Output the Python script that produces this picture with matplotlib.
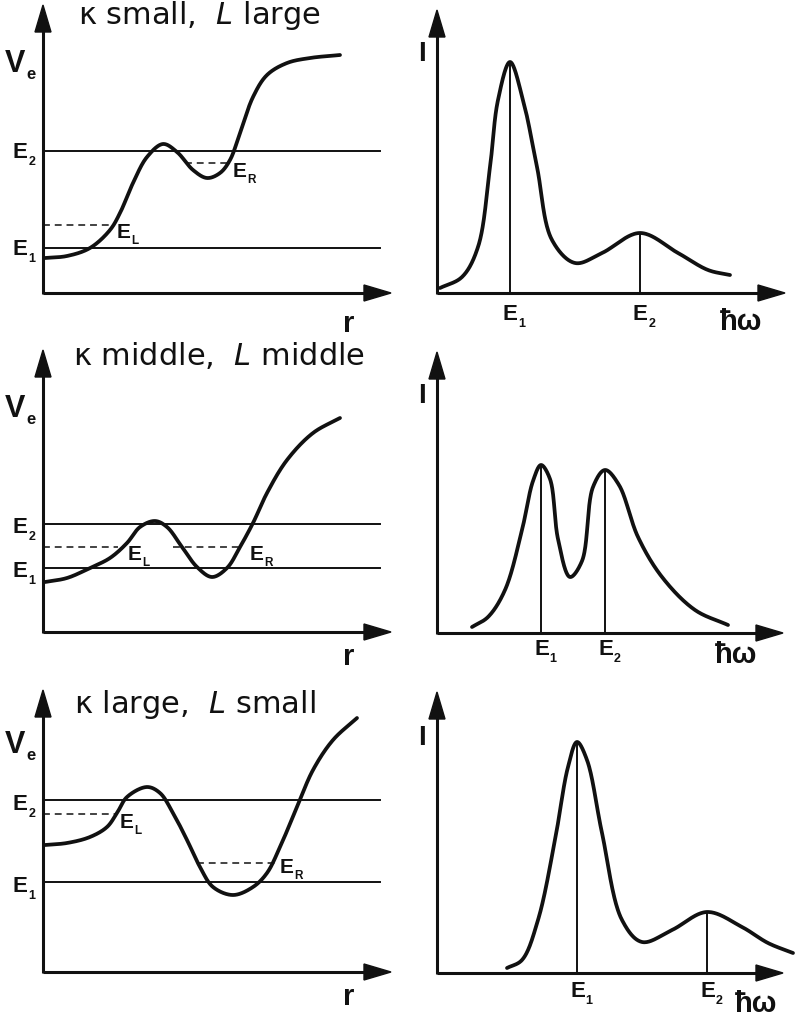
import numpy as np
import matplotlib
matplotlib.use("Agg")
import matplotlib.pyplot as plt
from matplotlib.patches import Polygon

plt.rcParams['font.family'] = ['Liberation Sans', 'DejaVu Sans']
plt.rcParams['mathtext.fontset'] = 'dejavusans'

# ---------------- effective potential V_e(r): knots of each curve ----------------
pot1_r = [0.2, 2.4, 4.7, 6.7, 7.7, 9.0, 10.4, 12.0, 13.4, 15.0, 16.4, 17.7, 18.7, 19.7, 21.0, 22.4, 24.4, 26.7, 29.7]
pot1_v = [3.5, 3.7, 4.5, 6.3, 8.0, 11.0, 13.6, 14.9, 14.1, 12.3, 11.5, 12.0, 13.3, 16.0, 19.6, 21.8, 23.0, 23.5, 23.8]

pot2_r = [0.2, 2.4, 4.7, 6.7, 8.4, 9.7, 11.2, 12.4, 13.9, 15.4, 16.9, 18.4, 19.7, 21.0, 22.4, 24.4, 27.0, 29.7]
pot2_v = [5.0, 5.4, 6.4, 7.4, 8.9, 10.5, 11.1, 10.5, 8.5, 6.5, 5.5, 6.4, 8.5, 10.9, 13.9, 17.2, 19.9, 21.4]

pot3_r = [0.2, 2.4, 4.7, 6.4, 7.4, 8.4, 10.4, 11.7, 13.0, 14.4, 15.7, 17.0, 19.0, 21.0, 22.4, 23.7, 25.4, 27.0, 29.0, 31.4]
pot3_v = [12.7, 12.9, 13.5, 14.5, 15.9, 17.5, 18.5, 17.9, 15.9, 13.2, 10.5, 8.5, 7.7, 8.5, 9.9, 12.5, 16.5, 20.2, 23.2, 25.4]

# level energies (E1, E2) and the dashed levels E_L, E_R
levels_E1 = [4.5, 6.4, 9.0]
levels_E2 = [14.2, 10.8, 17.2]
levels_EL = [6.8, 8.5, 15.8]
levels_ER = [13.0, 8.5, 10.9]
# r-ranges of the dashed E_L and E_R segments
EL_span = [(0.0, 6.9), (0.0, 7.5), (0.0, 7.2)]
ER_span = [(14.2, 18.5), (13.0, 19.9), (15.4, 23.4)]

# ---------------- spectra I(hbar omega) ----------------
spec1_w = [0.3, 2.5, 4.1, 5.3, 6.1, 7.3, 8.6, 10.0, 11.5, 13.8, 16.5, 20.3, 24.1, 27.1, 29.3]
spec1_i = [0.5, 1.6, 4.6, 12.6, 19.3, 23.1, 19.3, 12.6, 5.3, 3.0, 4.0, 6.0, 4.0, 2.3, 1.8]

spec2_w = [3.5, 5.1, 6.8, 8.5, 9.6, 10.4, 11.3, 12.1, 13.3, 14.5, 15.6, 16.8, 18.2, 20.1, 22.5, 25.8, 29.1]
spec2_i = [0.6, 1.6, 4.3, 10.3, 15.2, 16.8, 15.4, 9.4, 5.6, 7.2, 14.6, 16.3, 14.8, 9.6, 5.6, 2.3, 0.8]

spec3_w = [7.0, 8.5, 10.1, 11.8, 13.1, 14.0, 15.0, 16.5, 18.5, 20.5, 23.5, 27.0, 30.5, 33.1, 35.6]
spec3_i = [0.5, 1.3, 5.3, 13.3, 20.6, 23.1, 21.3, 14.0, 5.3, 3.1, 4.3, 6.1, 4.6, 3.0, 2.0]

# peak positions (E1, E2) and heights of the spectral lines
peak_E1 = [7.3, 10.4, 14.0]
peak_E2 = [20.3, 16.8, 27.0]
peak_h1 = [23.1, 16.8, 23.1]
peak_h2 = [6.0, 16.3, 6.1]

kappa_words = ["small", "middle", "large"]
L_words = ["large", "middle", "small"]

# ---------------- layout (pixels) ----------------
W, H = 795, 1016
left_origins = [(43, 293), (43, 632), (43, 972)]
right_origins = [(437, 293), (437, 633), (437, 973)]
left_tips = [(34.8, 28.8), (34.8, 28.2), (34.8, 28.2)]
right_tips = [(34.8, 28.3), (34.6, 28.1), (34.6, 28.1)]
title_xy = [(3.5, 26.9), (3.0, 26.7), (3.1, 25.9)]
V_base = [22.1, 21.5, 21.9]
EL_lab = [(7.4, 5.5), (8.5, 7.2), (7.7, 14.4)]
ER_lab = [(19.0, 11.6), (20.7, 7.2), (23.7, 9.9)]
E_lab_drop = [0.7, 0.9, 1.0]
r_base = [-3.9, -3.3, -3.3]
spec_lab_base = [-2.7, -2.2, -2.4]
hw_xy = [(30.4, -3.7), (29.9, -3.0), (31.9, -3.9)]
I_center = [23.9, 23.7, 23.5]

LW_CURVE = 2.7
LW_AXIS = 2.2
LW_THIN = 1.4
INK = "#111111"


def smooth(xs, ys, n=40):
    """Centripetal Catmull-Rom spline through the knots."""
    P = np.column_stack([xs, ys]).astype(float)
    P = np.vstack([2 * P[0] - P[1], P, 2 * P[-1] - P[-2]])
    out = []
    for i in range(1, len(P) - 2):
        p0, p1, p2, p3 = P[i - 1], P[i], P[i + 1], P[i + 2]
        t0 = 0.0
        t1 = t0 + np.linalg.norm(p1 - p0) ** 0.5
        t2 = t1 + np.linalg.norm(p2 - p1) ** 0.5
        t3 = t2 + np.linalg.norm(p3 - p2) ** 0.5
        t = np.linspace(t1, t2, n)[:, None]
        A1 = (t1 - t) / (t1 - t0) * p0 + (t - t0) / (t1 - t0) * p1
        A2 = (t2 - t) / (t2 - t1) * p1 + (t - t1) / (t2 - t1) * p2
        A3 = (t3 - t) / (t3 - t2) * p2 + (t - t2) / (t3 - t2) * p3
        B1 = (t2 - t) / (t2 - t0) * A1 + (t - t0) / (t2 - t0) * A2
        B2 = (t3 - t) / (t3 - t1) * A2 + (t - t1) / (t3 - t1) * A3
        C = (t2 - t) / (t2 - t1) * B1 + (t - t1) / (t2 - t1) * B2
        out.append(C if i == len(P) - 3 else C[:-1])
    C = np.vstack(out)
    return C[:, 0], C[:, 1]


def make_axes(fig, origin):
    ox, oy = origin
    x0, x1 = ox - 43, ox + 358
    y0, y1 = oy - 300, oy + 45
    ax = fig.add_axes([x0 / W, 1 - y1 / H, (x1 - x0) / W, (y1 - y0) / H])
    ax.set_xlim(-4.3, 35.8)
    ax.set_ylim(-4.5, 30.0)
    ax.axis("off")
    return ax


def draw_frame(ax, tip):
    tx, ty = tip
    hl, hw = 2.7, 0.8
    ax.plot([0, tx - hl + 0.2], [0, 0], color=INK, lw=LW_AXIS, solid_capstyle="butt", clip_on=False)
    ax.plot([0, 0], [-0.1, ty - hl + 0.2], color=INK, lw=LW_AXIS, solid_capstyle="butt", clip_on=False)
    ax.add_patch(Polygon([[tx, 0], [tx - hl, hw], [tx - hl, -hw]], closed=True, color=INK, clip_on=False))
    ax.add_patch(Polygon([[0, ty], [-hw, ty - hl], [hw, ty - hl]], closed=True, color=INK, clip_on=False))


def sublabel(ax, x, y, main, sub, size=16, subsize=9, dy=-3.5):
    t = ax.text(x, y, main, fontsize=size, fontweight="bold", ha="left", va="baseline", color=INK)
    ax.annotate(sub, xy=(1, 0), xycoords=t, xytext=(0.5, dy), textcoords="offset points",
                fontsize=subsize, fontweight="bold", ha="left", va="bottom", color=INK)
    return t


fig = plt.figure(figsize=(W / 100, H / 100), dpi=100)
fig.patch.set_facecolor("white")

pots = [(pot1_r, pot1_v), (pot2_r, pot2_v), (pot3_r, pot3_v)]
specs = [(spec1_w, spec1_i), (spec2_w, spec2_i), (spec3_w, spec3_i)]

for k in range(3):
    # ---- left: potential ----
    ax = make_axes(fig, left_origins[k])
    draw_frame(ax, left_tips[k])
    xr, yr = smooth(*pots[k])
    ax.plot(xr, yr, color=INK, lw=LW_CURVE, solid_capstyle="round", clip_on=False)
    for E in (levels_E1[k], levels_E2[k]):
        ax.plot([0, 33.7], [E, E], color=INK, lw=LW_THIN, clip_on=False)
    ax.plot(EL_span[k], [levels_EL[k]] * 2, color=INK, lw=1.1, ls=(0, (4.5, 3.2)), clip_on=False)
    ax.plot(ER_span[k], [levels_ER[k]] * 2, color=INK, lw=1.1, ls=(0, (4.5, 3.2)), clip_on=False)

    sublabel(ax, -3.0, levels_E2[k] - E_lab_drop[k], "E", "2")
    sublabel(ax, -3.0, levels_E1[k] - E_lab_drop[k], "E", "1")
    sublabel(ax, EL_lab[k][0], EL_lab[k][1], "E", "L", size=15, subsize=8.5)
    sublabel(ax, ER_lab[k][0], ER_lab[k][1], "E", "R", size=15, subsize=8.5)
    sublabel(ax, -3.8, V_base[k], "V", "e", size=22, subsize=12, dy=-2.0)
    ax.text(30.6, r_base[k], "r", fontsize=21, fontweight="bold", ha="center", va="baseline", color=INK)

    tx, ty = title_xy[k]
    ax.text(tx, ty, "\u03ba " + kappa_words[k] + ",  $\\mathit{L}$ " + L_words[k],
            fontsize=22, family="DejaVu Sans", ha="left", va="baseline", color=INK)

    # ---- right: spectrum ----
    ax = make_axes(fig, right_origins[k])
    draw_frame(ax, right_tips[k])
    xs, ys = smooth(*specs[k])
    ax.plot(xs, ys, color=INK, lw=LW_CURVE, solid_capstyle="round", clip_on=False)
    ax.plot([peak_E1[k]] * 2, [0, peak_h1[k]], color=INK, lw=LW_THIN, clip_on=False)
    ax.plot([peak_E2[k]] * 2, [0, peak_h2[k]], color=INK, lw=LW_THIN, clip_on=False)
    sublabel(ax, peak_E1[k] - 0.7, spec_lab_base[k], "E", "1")
    sublabel(ax, peak_E2[k] - 0.7, spec_lab_base[k], "E", "2")
    ax.text(-1.5, I_center[k], "I", fontsize=20, fontweight="bold", ha="center", va="center", color=INK)
    ax.text(hw_xy[k][0], hw_xy[k][1], "\u0127\u03c9", fontsize=21, fontweight="bold",
            ha="center", va="baseline", color=INK)

fig.savefig("out.png", dpi=100, facecolor="white")
